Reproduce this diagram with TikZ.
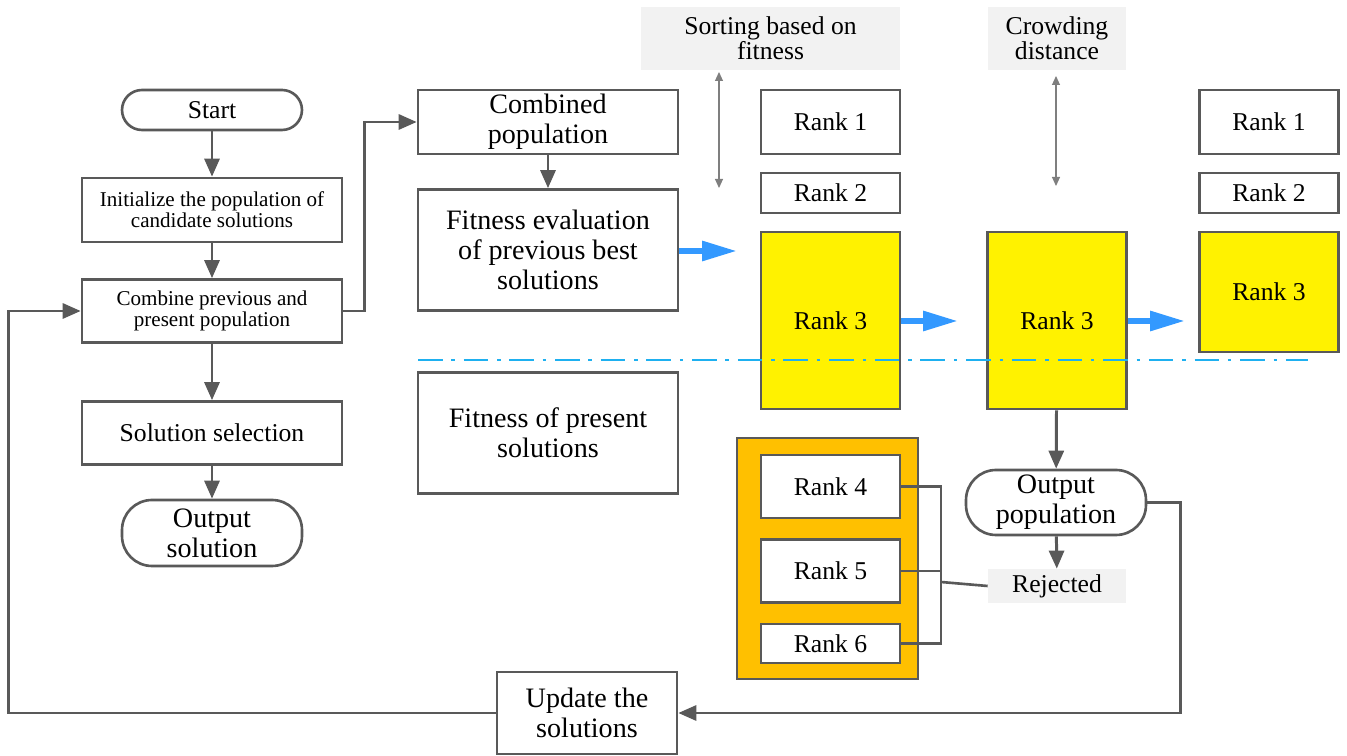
\documentclass[tikz,border=0pt]{standalone}
\usepackage{fontspec}
\setmainfont{Liberation Serif}
\usetikzlibrary{positioning,arrows.meta,calc}

\definecolor{linegray}{HTML}{595959}
\definecolor{thingray}{HTML}{7F7F7F}
\definecolor{boxgray}{HTML}{F2F2F2}
\definecolor{arrowblue}{HTML}{3399FF}
\definecolor{dashblue}{HTML}{1EB0F0}
\definecolor{rankorange}{HTML}{FFC000}

\begin{document}
\begin{tikzpicture}[x=0.02cm,y=-0.02cm,
  every node/.style={align=center,inner sep=1pt},
  smalltxt/.style={font=\fontsize{12}{12}\selectfont},
  midtxt/.style={font=\fontsize{14.6}{14.4}\selectfont},
  bigtxt/.style={font=\fontsize{16}{17}\selectfont},
  Fbox/.style={draw=linegray,line width=1.5pt,minimum width=5.2cm},
  Tbox/.style={Fbox,minimum width=3.6cm},
  Rbox/.style={draw=linegray,line width=1.5pt,fill=white,minimum width=2.78cm,midtxt},
  Gbox/.style={fill=boxgray,midtxt},
  flow/.style={draw=linegray,line width=1.7pt,-{Triangle[length=0.36cm,width=0.3cm]}},
  link/.style={draw=linegray,line width=1.5pt},
  bflow/.style={draw=arrowblue,line width=3.4pt,-{Triangle[length=0.7cm,width=0.38cm]}},
  dflow/.style={draw=thingray,line width=0.6pt,{Triangle[length=0.18cm,width=0.16cm]}-{Triangle[length=0.18cm,width=0.16cm]}}
]
\useasboundingbox (0,0) rectangle (1347,756);

% the main flow
\node[Tbox,midtxt,rounded corners=0.4cm,minimum height=0.8cm] (start) at (212,110) {Start};
\node[Fbox,smalltxt,minimum height=1.28cm] (init) at (212,210) {Initialize the population of\\candidate solutions};
\node[Fbox,smalltxt,minimum height=1.26cm] (comb) at (212,311) {Combine previous and\\present population};
\node[Fbox,midtxt,minimum height=1.26cm] (sel) at (212,433) {Solution selection};
\node[Tbox,bigtxt,rounded corners=0.6cm,minimum height=1.32cm] (outsol) at (212,533) {Output\\solution};

% the fitness boxes
\node[Fbox,bigtxt,minimum height=1.28cm] (cpop) at (548,122) {Combined\\population};
\node[Fbox,bigtxt,minimum height=2.42cm] (fprev) at (548,250) {Fitness evaluation\\of previous best\\solutions};
\node[Fbox,bigtxt,minimum height=2.42cm] (fpres) at (548,433) {Fitness of present\\solutions};
\node[Tbox,bigtxt,minimum height=1.64cm] (upd) at (587,713) {Update the\\solutions};

% the labels on top
\node[Gbox,minimum width=5.18cm,minimum height=1.26cm] (sortlbl) at (770.5,38.5) {Sorting based on\\fitness};
\node[Gbox,minimum width=2.76cm,minimum height=1.26cm] (crowdlbl) at (1057,38.5) {Crowding\\distance};

% the ranks
\foreach \c/\x in {srt/830.5,new/1269} {
  \node[Rbox,minimum height=1.28cm] (\c1) at (\x,122) {Rank 1};
  \node[Rbox,minimum height=0.8cm] (\c2) at (\x,193) {Rank 2};
}
\node[Rbox,fill=yellow,minimum height=3.54cm] (srt3) at (830.5,320.5) {Rank 3};
\node[Rbox,fill=yellow,minimum height=3.54cm] (crw3) at (1057,320.5) {Rank 3};
\node[Rbox,fill=yellow,minimum height=2.4cm] (new3) at (1269,292) {Rank 3};

% the rejected ranks
\node[draw=linegray,line width=1.5pt,fill=rankorange,minimum width=3.62cm,minimum height=4.82cm] (rejbox) at (827.5,558.5) {};
\node[Rbox,minimum height=1.26cm] (rej4) at (830.5,486.5) {Rank 4};
\node[Rbox,minimum height=1.26cm] (rej5) at (830.5,571) {Rank 5};
\node[Rbox,minimum height=0.78cm] (rej6) at (830.5,643.5) {Rank 6};

\node[Tbox,bigtxt,rounded corners=0.6cm,minimum height=1.3cm] (opop) at (1056,502.5) {Output\\population};
\node[Gbox,minimum width=2.76cm,minimum height=0.68cm] (rej) at (1057,586) {Rejected};

% free ends
\coordinate (b1) at (737,251);
\coordinate (b2) at (958,321);
\coordinate (b3) at (1185,321);
\coordinate (jn) at (941,582);
\coordinate (s1) at (719,72);
\coordinate (s2) at (719,188);
\coordinate (c1) at (1056,76);
\coordinate (c2) at (1056,186);

% the edges
\draw[flow] (start) -- (init);
\draw[flow] (init) -- (comb);
\draw[flow] (comb) -- (sel);
\draw[flow] (sel) -- (outsol);
\draw[flow] (comb.east) -- ++(21,0) |- (cpop.west);
\draw[flow] (cpop) -- (fprev);
\draw[flow] (crw3) -- (opop);
\draw[flow] (opop) -- (rej);
\draw[flow] (opop.east) -- ++(33,0) |- (upd.east);
\draw[flow] (upd.west) -- ++(-487,0) |- (comb.west);
\draw[link] (rej4.east) -| (jn);
\draw[link] (rej5.east) -| (jn);
\draw[link] (rej6.east) -| (jn);
\draw[link] (jn) -- (rej.west);
\draw[dflow] (s1) -- (s2);
\draw[dflow] (c1) -- (c2);

% blue arrows
\draw[bflow] (fprev.east |- b1) -- (b1);
\draw[bflow] (srt3.east |- b2) -- (b2);
\draw[bflow] (crw3.east |- b3) -- (b3);

% split line
\draw[dashblue,line width=1.6pt,dash pattern=on 14pt off 5pt on 2pt off 5pt] (418,360) -- (1308,360);

\end{tikzpicture}
\end{document}
